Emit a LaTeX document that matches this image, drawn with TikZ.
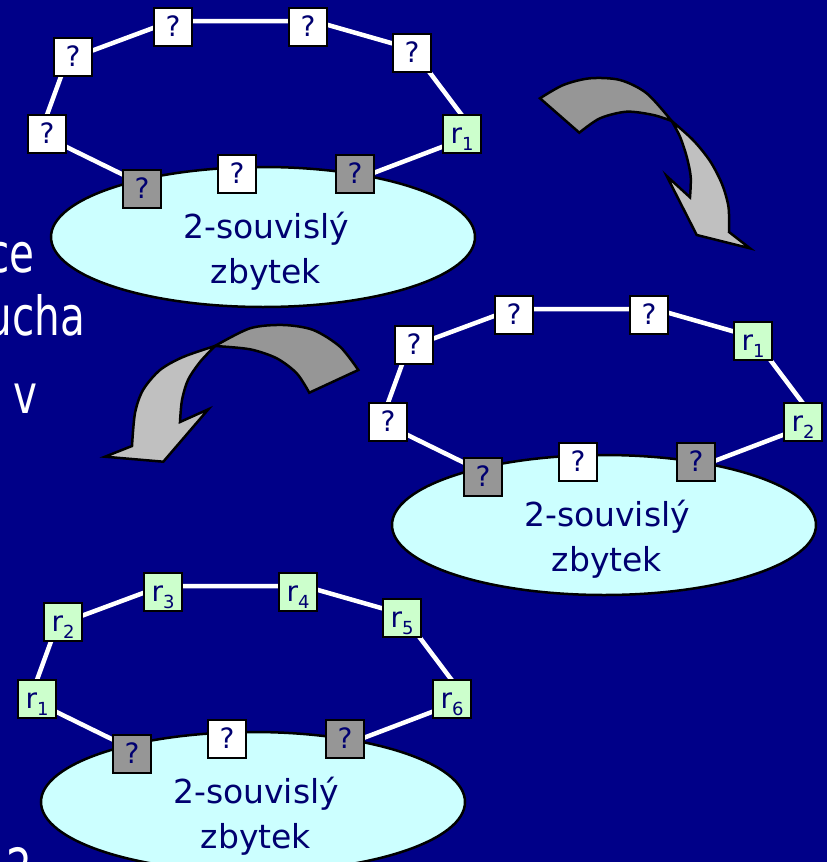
\documentclass[tikz,border=0pt]{standalone}
\usepackage{fontspec}
\setmainfont{DejaVu Sans}
\usepackage{graphicx}
\usetikzlibrary{shapes.geometric}

\definecolor{slidebg}{RGB}{0,0,136}
\definecolor{ink}{RGB}{0,0,112}
\definecolor{blobfill}{RGB}{204,255,255}
\definecolor{boxgray}{RGB}{150,150,150}
\definecolor{boxgreen}{RGB}{204,255,204}
\definecolor{arrowdark}{RGB}{150,150,150}
\definecolor{arrowlight}{RGB}{192,192,192}

\pgfdeclarelayer{backdrop}
\pgfdeclarelayer{edges}
\pgfsetlayers{backdrop,edges,main}

\tikzset{
  cell/.style={draw=black, line width=2.5pt, minimum size=38pt, inner sep=0pt,
    text=ink, font=\fontsize{28}{30}\selectfont, text height=20pt, text depth=1pt},
  qbox/.style={cell, fill=white},
  gbox/.style={cell, fill=boxgray},
  rbox/.style={cell, fill=boxgreen},
  blob/.style={ellipse, draw=black, line width=2.5pt, fill=blobfill,
    minimum width=424pt, minimum height=140pt, inner sep=0pt},
  blobtext/.style={text=ink, font=\fontsize{33}{45}\selectfont, inner sep=0pt, anchor=base},
  ring/.style={draw=white, line width=4.5pt},
  swoop/.style={draw=black, line width=2.5pt, line join=miter},
  slidetext/.style={text=white, font=\fontsize{54}{60}\selectfont, inner sep=0pt},
}

% r with a lowered index
\newcommand\rsub[1]{r\raisebox{-7pt}{\fontsize{18}{18}\selectfont #1}}

% one cycle resting on a 2-connected rest:
% #1 name prefix, #2 shift, #3..#8 ring nodes A..F given as [style]{label}
\newcommand\ringgroup[8]{%
  \begin{scope}[shift={#2}]
    \node[blob] (#1blob) at (263,237) {};
    \node[blobtext] (#1caption) at (266,238)
      {\vtop{\hbox to 0pt{\hss 2-souvislý\hss}\hbox to 0pt{\hss zbytek\hss}}};
    \node (#1A) at (47,134) #3;
    \node (#1B) at (73,57) #4;
    \node (#1C) at (173,27) #5;
    \node (#1D) at (308,27) #6;
    \node (#1E) at (412,53) #7;
    \node (#1F) at (462,134) #8;
    \node[gbox] (#1L) at (142,189) {?};
    \node[qbox] (#1M) at (237,174) {?};
    \node[gbox] (#1R) at (355,174) {?};
    \begin{pgfonlayer}{edges}
      \draw[ring] ([shift={(0,-5)}]#1L.center) -- ([shift={(-7,0)}]#1A.center)
        -- ([shift={(-6,3)}]#1B.center) -- ([shift={(-1,-6)}]#1C.center)
        -- ([shift={(6,-6)}]#1D.center) -- ([shift={(0,-4)}]#1E.center)
        -- ([shift={(14,0)}]#1F.center) -- ([shift={(0,6)}]#1R.center);
    \end{pgfonlayer}
  \end{scope}}

\begin{document}
\begin{tikzpicture}[x=1pt, y=-1pt]
  \useasboundingbox (0,0) rectangle (827,862);
  \begin{pgfonlayer}{backdrop}
    \fill[slidebg] (0,0) rectangle (827,862);
  \end{pgfonlayer}

  % text of the slide running in from the left edge
  \node[slidetext, anchor=base east] (frag1) at (35,272) {\scalebox{0.75}[1]{ce}};
  \node[slidetext, anchor=base east] (frag2) at (85,335) {\scalebox{0.75}[1]{ucha}};
  \node[slidetext, anchor=base] (frag3) at (25.5,413) {\scalebox{0.75}[1]{v}};
  \node[slidetext, anchor=base] (frag4) at (19,887) {\scalebox{0.75}[1]{2}};

  % the three stages
  \ringgroup{g1}{(0,0)}{[qbox]{?}}{[qbox]{?}}{[qbox]{?}}{[qbox]{?}}{[qbox]{?}}{[rbox]{\rsub{1}}}
  \ringgroup{g2}{(341,288)}{[qbox]{?}}{[qbox]{?}}{[qbox]{?}}{[qbox]{?}}{[rbox]{\rsub{1}}}{[rbox]{\rsub{2}}}
  \ringgroup{g3}{(-10,565)}{[rbox]{\rsub{1}}}{[rbox]{\rsub{2}}}{[rbox]{\rsub{3}}}{[rbox]{\rsub{4}}}{[rbox]{\rsub{5}}}{[rbox]{\rsub{6}}}

  % curved block arrow, first stage to second
  \draw[swoop, fill=arrowdark] (540,98.3)
    -- plot[smooth] coordinates {(540,98.3) (563.3,85) (590,78.3) (620,80) (646.7,93.3) (671.7,121)}
    -- plot[smooth] coordinates {(671.7,121) (653.3,115) (626.7,111.7) (600,118.3) (579.3,132.7)}
    -- cycle;
  \draw[swoop, fill=arrowlight]
    plot[smooth] coordinates {(671.7,121) (693,140) (710,161) (722,184) (728.5,207) (729,232)}
    -- (750,248.3) -- (696.7,235) -- (666.7,176)
    -- plot[smooth] coordinates {(690,197.3) (690.7,176.7) (686.7,156.7) (680,136.7) (671.7,121)}
    -- cycle;

  % curved block arrow, second stage to third
  \draw[swoop, fill=arrowdark] (358.3,370)
    -- plot[smooth] coordinates {(358.3,370) (340,346.7) (313.3,330) (283.3,325) (250,328.3) (215,346)}
    -- plot[smooth] coordinates {(215,346) (250,349.3) (276.7,358.3) (296.7,373.3) (309.3,392.7)}
    -- cycle;
  \draw[swoop, fill=arrowlight]
    plot[smooth] coordinates {(215,346) (183,357) (160,370) (143,390) (135,413) (132,446)}
    -- (105,456.7) -- (163.3,461.7) -- (208.3,409.3)
    -- plot[smooth] coordinates {(180,422) (182,400) (188,380) (200,362) (215,346)}
    -- cycle;
\end{tikzpicture}
\end{document}
